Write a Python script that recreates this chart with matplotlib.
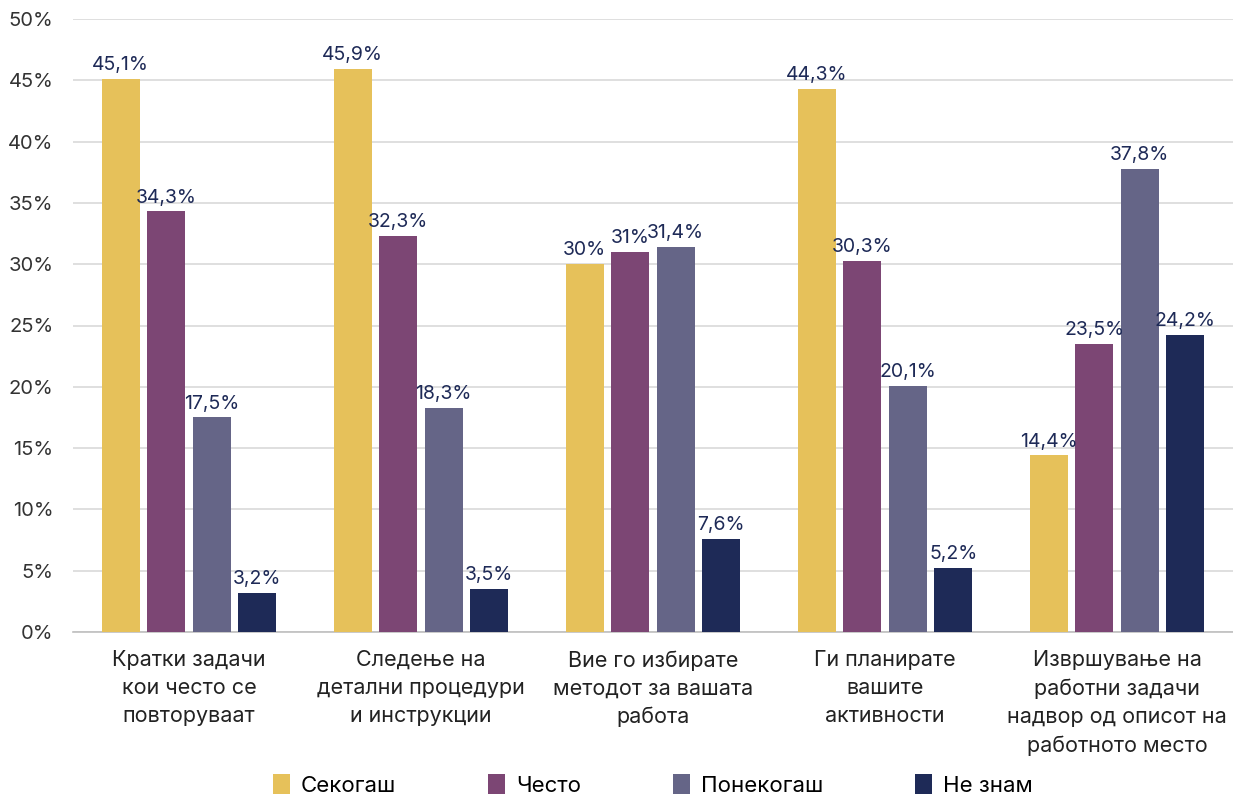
import numpy as np
import matplotlib
matplotlib.use('Agg')
import matplotlib.pyplot as plt

plt.rcParams['font.family'] = ['Inter', 'DejaVu Sans']

categories = ['Кратки задачи\nкои често се\nповторуваат',
              'Следење на\nдетални процедури\nи инструкции',
              'Вие го избирате\nметодот за вашата\nработа',
              'Ги планирате\nвашите\nактивности',
              'Извршување на\nработни задачи\nнадвор од описот на\nработното место']
series = ['Секогаш', 'Често', 'Понекогаш', 'Не знам']
sekogash = [45.1, 45.9, 30.0, 44.3, 14.4]
chesto = [34.3, 32.3, 31.0, 30.3, 23.5]
ponekogash = [17.5, 18.3, 31.4, 20.1, 37.8]
ne_znam = [3.2, 3.5, 7.6, 5.2, 24.2]
values = [sekogash, chesto, ponekogash, ne_znam]
colors = ['#E6C15A', '#7C4674', '#656587', '#1E2A57']

fig = plt.figure(figsize=(12.33, 7.96), dpi=100)
ax = fig.add_axes([73/1233, 1 - 632/796, 1160/1233, 613/796])

x = np.arange(len(categories))
width = 0.164
step = 0.196
for i, (name, vals, col) in enumerate(zip(series, values, colors)):
    pos = x + (i - 1.5) * step
    ax.bar(pos, vals, width=width, color=col, label=name, zorder=3)
    for px, v in zip(pos, vals):
        lab = ('%g' % v).replace('.', ',') + '%'
        ax.text(px, v + 0.4, lab, ha='center', va='bottom', fontsize=14,
                color='#1E2A57', zorder=4)

ax.set_xlim(-0.5, 4.5)
ax.set_ylim(0, 50)
ax.set_yticks(np.arange(0, 51, 5))
ax.set_yticklabels(['%d%%' % t for t in range(0, 51, 5)], fontsize=14.5, color='#333333')
ax.set_xticks(x)
ax.set_xticklabels(categories, fontsize=15.5, color='#222222', linespacing=1.5, va='top')
ax.tick_params(axis='both', length=0)
ax.tick_params(axis='x', pad=13)
ax.tick_params(axis='y', pad=14)
ax.grid(axis='y', color='#D9D9D9', linewidth=1.2, zorder=0)
for s in ['top', 'right', 'left']:
    ax.spines[s].set_visible(False)
ax.spines['bottom'].set_color('#BFBFBF')
ax.spines['bottom'].set_linewidth(1.2)

ax.legend(loc='lower center', bbox_to_anchor=(0.5, -0.3), ncol=4, frameon=False,
          fontsize=16, handlelength=0.75, handleheight=1.0, columnspacing=4.15,
          handletextpad=0.5)

fig.savefig('out.png', dpi=100)
